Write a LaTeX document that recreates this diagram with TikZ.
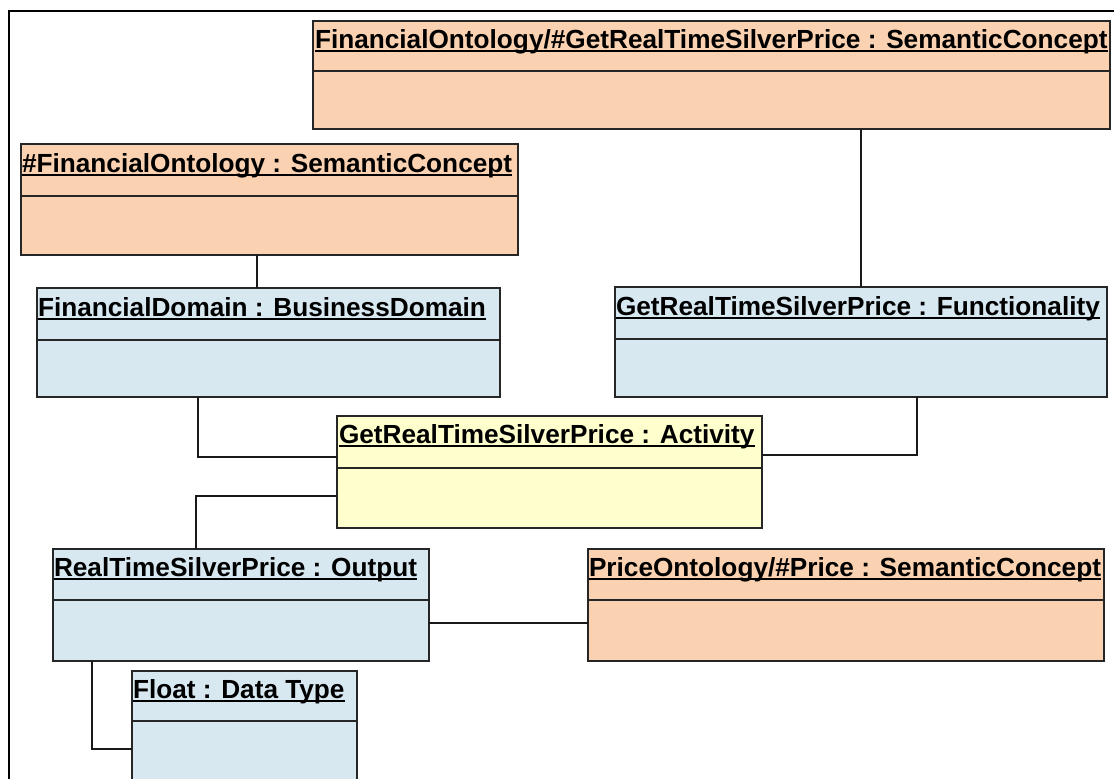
\documentclass[tikz,border=0pt]{standalone}
\usepackage{fontspec}
\setmainfont{Liberation Sans}
\definecolor{peach}{RGB}{250,209,177}
\definecolor{lblue}{RGB}{216,232,241}
\definecolor{lyel}{RGB}{255,255,206}
\newcommand\ulbox[1]{\setbox0\hbox{#1}\rlap{\rule[-3.5pt]{\wd0}{1.6pt}}\box0}
\tikzset{
  umlbox/.style={draw=black!85, line width=1.7pt, rectangle, inner sep=0pt, outer sep=0pt, anchor=north west},
  ttl/.style={anchor=base west, inner sep=0pt, outer sep=0pt, font=\bfseries\fontsize{26.2}{30}\selectfont},
  sep/.style={draw=black!85, line width=1.7pt},
  conn/.style={draw=black!90, line width=1.6pt},
}
\begin{document}
\begin{tikzpicture}[x=1pt,y=-1pt]
\useasboundingbox[fill=white] (0,0) rectangle (1114,779);
% frame
\draw[line width=2pt] (8.5,790) -- (8.5,11) -- (1120,11);

% boxes
\node[umlbox, fill=peach, minimum width=797pt, minimum height=108pt] (gs) at (313,21) {};
\node[ttl] (gst) at ([xshift=2pt,yshift=-27pt]gs.north west) {\ulbox{FinancialOntology/\#GetRealTimeSilverPrice : SemanticConcept}};
\draw[sep] ([yshift=-50pt]gs.north west) -- ([yshift=-50pt]gs.north east);

\node[umlbox, fill=peach, minimum width=497pt, minimum height=111pt] (fo) at (21,144) {};
\node[ttl] (fot) at ([xshift=1pt,yshift=-28pt]fo.north west) {\ulbox{\#FinancialOntology : SemanticConcept}};
\draw[sep] ([yshift=-52pt]fo.north west) -- ([yshift=-52pt]fo.north east);

\node[umlbox, fill=lblue, minimum width=463pt, minimum height=109pt] (fd) at (37,288) {};
\node[ttl] (fdt) at ([xshift=1pt,yshift=-28pt]fd.north west) {\ulbox{FinancialDomain : BusinessDomain}};
\draw[sep] ([yshift=-52pt]fd.north west) -- ([yshift=-52pt]fd.north east);

\node[umlbox, fill=lblue, minimum width=492pt, minimum height=110pt] (fn) at (615,287) {};
\node[ttl] (fnt) at ([xshift=1pt,yshift=-28pt]fn.north west) {\ulbox{GetRealTimeSilverPrice : Functionality}};
\draw[sep] ([yshift=-52pt]fn.north west) -- ([yshift=-52pt]fn.north east);

\node[umlbox, fill=lyel, minimum width=425pt, minimum height=112pt] (act) at (337,416) {};
\node[ttl] (actt) at ([xshift=2pt,yshift=-27pt]act.north west) {\ulbox{GetRealTimeSilverPrice : Activity}};
\draw[sep] ([yshift=-52pt]act.north west) -- ([yshift=-52pt]act.north east);

\node[umlbox, fill=lblue, minimum width=376pt, minimum height=112pt] (out) at (53,549) {};
\node[ttl] (outt) at ([xshift=1pt,yshift=-27pt]out.north west) {\ulbox{RealTimeSilverPrice : Output}};
\draw[sep] ([yshift=-51pt]out.north west) -- ([yshift=-51pt]out.north east);

\node[umlbox, fill=peach, minimum width=516pt, minimum height=112pt] (pr) at (588,549) {};
\node[ttl] (prt) at ([xshift=1pt,yshift=-27pt]pr.north west) {\ulbox{PriceOntology/\#Price : SemanticConcept}};
\draw[sep] ([yshift=-51pt]pr.north west) -- ([yshift=-51pt]pr.north east);

\node[umlbox, fill=lblue, minimum width=225pt, minimum height=130pt] (fl) at (132,671) {};
\node[ttl] (flt) at ([xshift=1pt,yshift=-27pt]fl.north west) {\ulbox{Float : Data Type}};
\draw[sep] ([yshift=-50pt]fl.north west) -- ([yshift=-50pt]fl.north east);

% connectors
\draw[conn] (fn.north) -- (fn.north |- gs.south);
\draw[conn] ([xshift=236pt]fo.south west) -- ([xshift=236pt]fo.south west |- fd.north);
\draw[conn] ([xshift=161pt]fd.south west) |- ([yshift=15pt]act.west);
\draw[conn] ([xshift=302pt]fn.south west) |- ([yshift=17pt]act.east);
\draw[conn] ([yshift=-24pt]act.west) -| ([xshift=143pt]out.north west);
\draw[conn] ([yshift=-18pt]out.east) -- ([yshift=-18pt]pr.west);
\coordinate (flc) at ([yshift=-78pt]fl.north west);
\draw[conn] ([xshift=39pt]out.south west) |- (flc);
\end{tikzpicture}
\end{document}
